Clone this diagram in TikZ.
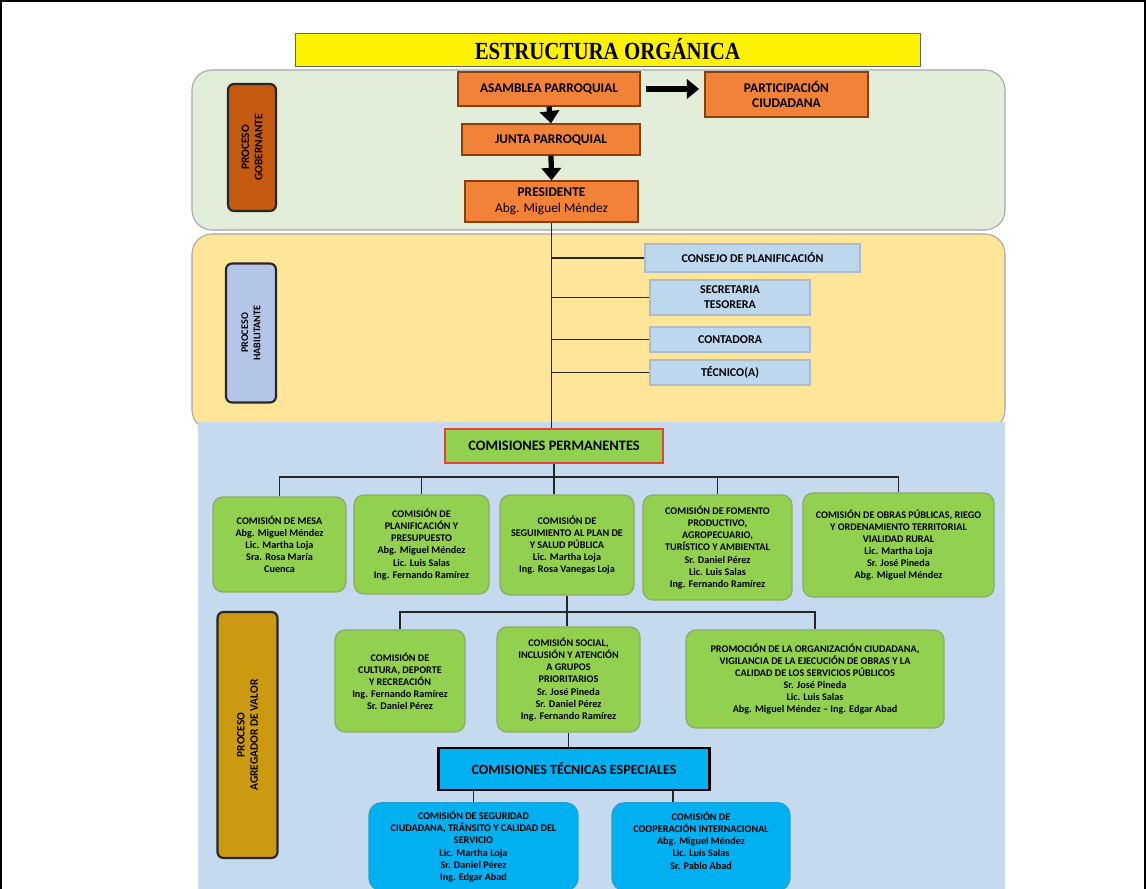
\documentclass[tikz,border=0pt]{standalone}
\usepackage{fontspec}
\setmainfont{Carlito}
\newfontfamily\titlefont[FakeStretch=0.85]{Liberation Serif}
\usetikzlibrary{arrows.meta}

\definecolor{bandgreen}{HTML}{E2EDDA}
\definecolor{bandyellow}{HTML}{FFE597}
\definecolor{bandblue}{HTML}{C5D9EF}
\definecolor{govfill}{HTML}{F28238}
\definecolor{govlabel}{HTML}{C55A11}
\definecolor{hablabel}{HTML}{B4C6E7}
\definecolor{agrlabel}{HTML}{CC9A10}
\definecolor{supfill}{HTML}{BDD7EE}
\definecolor{comgreen}{HTML}{92D050}
\definecolor{comred}{HTML}{E8413A}
\definecolor{tecblue}{HTML}{00B0F0}

\begin{document}
\begin{tikzpicture}[
    x=0.02cm, y=-0.02cm,
    sz/.style 2 args={minimum width=#1*0.02cm, minimum height=#2*0.02cm, inner sep=0pt},
    band/.style={draw=black!35, line width=0.6pt, rounded corners=0.4cm},
    label/.style={draw=black!85, line width=1.2pt, rounded corners=0.12cm, rotate=90, align=center, font=\fontsize{6.5}{7.5}\selectfont\bfseries},
    govbox/.style={draw=govlabel!70!black, fill=govfill, line width=0.7pt, align=center, font=\fontsize{7.6}{9}\selectfont\bfseries},
    supbox/.style={draw=supfill!70!gray, fill=supfill, line width=0.7pt, align=center, font=\fontsize{6.8}{8.6}\selectfont\bfseries},
    combox/.style={draw=comgreen!55!gray, fill=comgreen, line width=0.7pt, rounded corners=0.2cm, align=center, font=\fontsize{5.8}{6.9}\selectfont\bfseries},
    tecbox/.style={draw=tecblue!70!gray, fill=tecblue, line width=0.7pt, rounded corners=0.25cm, align=center, font=\fontsize{5.8}{6.9}\selectfont\bfseries},
    link/.style={line width=0.8pt, draw=black!85},
    bigarrow/.style={line width=3pt, -{Triangle[length=7pt,width=11pt]}}
]
    \useasboundingbox (0,0) rectangle (1146,889);
    \clip (0,0) rectangle (1146,889);

    % Marco
    \draw[line width=1pt] (1,889) -- (1,1) -- (1145,1) -- (1145,889);

    % Franjas de fondo
    \draw[band, fill=bandgreen] (192,70) rectangle (1005,230);
    \draw[band, fill=bandyellow] (192,234) rectangle (1005,430);
    \fill[bandblue] (198,422) rectangle (1005,895);

    % Titulo
    \node[sz={625}{33}, draw=black!60, fill=yellow, font=\titlefont\fontsize{14}{14}\selectfont\bfseries] (titulo) at (607.5,49.5) {ESTRUCTURA ORGÁNICA};

    % Etiquetas de procesos
    \node[label, sz={127}{48}, fill=govlabel] (gobernante) at (252,147.5) {PROCESO\\GOBERNANTE};
    \node[label, sz={139}{50}, fill=hablabel, font=\fontsize{5.8}{7}\selectfont\bfseries] (habilitante) at (251,333) {PROCESO\\HABILITANTE};
    \node[label, sz={246}{60}, fill=agrlabel] (agregador) at (247.5,735) {PROCESO\\AGREGADOR DE VALOR};

    % Nivel gobernante
    \node[govbox, sz={182}{34}] (asamblea) at (549,89) {ASAMBLEA PARROQUIAL};
    \node[govbox, sz={163}{45}] (participacion) at (786.5,94.5) {PARTICIPACIÓN\\CIUDADANA};
    \node[govbox, sz={178}{31}] (junta) at (551,139.5) {JUNTA PARROQUIAL};
    \node[govbox, sz={173}{41}] (presidente) at (551.5,201.5) {PRESIDENTE\\{\mdseries Abg. Miguel Méndez}};

    \draw[bigarrow] (asamblea.south) -- (junta.north);
    \draw[bigarrow] (junta.south) -- (presidente.north);
    \draw[bigarrow, shorten <=3pt, shorten >=3pt] (asamblea.east) -- (asamblea.east -| participacion.west);

    % Nivel habilitante
    \node[supbox, sz={215}{28}] (consejo) at (752.5,258) {CONSEJO DE PLANIFICACIÓN};
    \node[supbox, sz={160}{35}] (secretaria) at (730,297.5) {SECRETARIA\\TESORERA};
    \node[supbox, sz={160}{25}] (contadora) at (730,339.5) {CONTADORA};
    \node[supbox, sz={160}{25}] (tecnico) at (730,372.5) {TÉCNICO(A)};

    % Comisiones permanentes
    \node[sz={218}{34}, draw=comred, fill=comgreen, line width=1.3pt, font=\fontsize{8.2}{9}\selectfont\bfseries] (permanentes) at (554,446) {COMISIONES PERMANENTES};

    \draw[link] (presidente.south) -- (presidente.south |- permanentes.north);
    \foreach \n in {consejo,secretaria,contadora,tecnico}
        \draw[link] (\n.west -| presidente.south) -- (\n.west);

    \node[combox, sz={133}{95}] (b1) at (279.5,544.5) {COMISIÓN DE MESA\\Abg. Miguel Méndez\\Lic. Martha Loja\\Sra. Rosa María\\Cuenca};
    \node[combox, sz={135}{99}] (b2) at (421.5,544.5) {COMISIÓN DE\\PLANIFICACIÓN Y\\PRESUPUESTO\\Abg. Miguel Méndez\\Lic. Luis Salas\\Ing. Fernando Ramírez};
    \node[combox, sz={134}{100}] (b3) at (567,545) {COMISIÓN DE\\SEGUIMIENTO AL PLAN DE\\Y SALUD PÚBLICA\\Lic. Martha Loja\\Ing. Rosa Vanegas Loja};
    \node[combox, sz={149}{105}] (b4) at (717.5,547.5) {COMISIÓN DE FOMENTO\\PRODUCTIVO,\\AGROPECUARIO,\\TURÍSTICO Y AMBIENTAL\\Sr. Daniel Pérez\\Lic. Luis Salas\\Ing. Fernando Ramírez};
    \node[combox, sz={191}{104}] (b5) at (898.5,545) {COMISIÓN DE OBRAS PÚBLICAS, RIEGO\\Y ORDENAMIENTO TERRITORIAL\\VIALIDAD RURAL\\Lic. Martha Loja\\Sr. José Pineda\\Abg. Miguel Méndez};

    \coordinate (bus1) at (0,477);
    \draw[link] (permanentes.south) -- (permanentes.south |- b3.north);
    \draw[link] (b1.north) -- (b1.north |- bus1) -- (b5.north |- bus1) -- (b5.north);
    \foreach \n in {b2,b4}
        \draw[link] (\n.north) -- (\n.north |- bus1);

    \node[combox, sz={130}{102}] (b6) at (400,681) {COMISIÓN DE\\CULTURA, DEPORTE\\Y RECREACIÓN\\Ing. Fernando Ramírez\\Sr. Daniel Pérez};
    \node[combox, sz={143}{105}] (b7) at (568.5,679.5) {COMISIÓN SOCIAL,\\INCLUSIÓN Y ATENCIÓN\\A GRUPOS\\PRIORITARIOS\\Sr. José Pineda\\Sr. Daniel Pérez\\Ing. Fernando Ramírez};
    \node[combox, sz={258}{98}] (b8) at (815,679) {PROMOCIÓN DE LA ORGANIZACIÓN CIUDADANA,\\VIGILANCIA DE LA EJECUCIÓN DE OBRAS Y LA\\CALIDAD DE LOS SERVICIOS PÚBLICOS\\Sr. José Pineda\\Lic. Luis Salas\\Abg. Miguel Méndez -- Ing. Edgar Abad};

    \coordinate (bus2) at (0,612);
    \draw[link] (b3.south) -- (b3.south |- b7.north);
    \draw[link] (b6.north) -- (b6.north |- bus2) -- (b8.north |- bus2) -- (b8.north);

    % Comisiones tecnicas especiales
    \node[sz={271}{42}, draw=black, fill=tecblue, line width=1.3pt, font=\fontsize{8}{9}\selectfont\bfseries] (tecnicas) at (574,769) {COMISIONES TÉCNICAS ESPECIALES};
    \draw[link] (b7.south) -- (b7.south |- tecnicas.north);

    \node[tecbox, sz={209}{88}, anchor=north] (c1) at (473.5,802) {COMISIÓN DE SEGURIDAD\\CIUDADANA, TRÁNSITO Y CALIDAD DEL\\SERVICIO\\Lic. Martha Loja\\Sr. Daniel Pérez\\Ing. Edgar Abad};
    \node[tecbox, sz={178}{88}, anchor=north] (c2) at (701,802) {COMISIÓN DE\\COOPERACIÓN INTERNACIONAL\\Abg. Miguel Méndez\\Lic. Luis Salas\\Sr. Pablo Abad\\ };

    \draw[link] (c1.north |- tecnicas.south) -- (c1.north);
    \draw[link] ([xshift=-0.56cm]c2.north |- tecnicas.south) -- ([xshift=-0.56cm]c2.north);
\end{tikzpicture}
\end{document}
